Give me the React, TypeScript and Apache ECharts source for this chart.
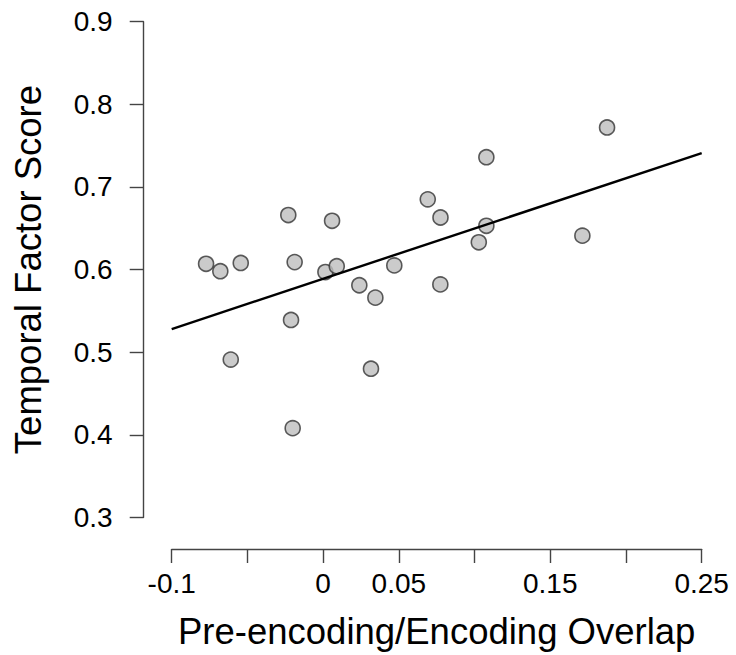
import React, { useEffect, useRef } from "react";
import * as echarts from "echarts";

// Observed points (Pre-encoding/Encoding Overlap vs Temporal Factor Score)
const overlapValues = [
  -0.0773, -0.0679, -0.0544, -0.061, -0.023, -0.0188, -0.0212, -0.0201, 0.0059, 0.0015, 0.009,
  0.0239, 0.0345, 0.0316, 0.047, 0.0691, 0.0775, 0.0774, 0.1028, 0.1078, 0.1078, 0.1712, 0.1875,
];
const scoreValues = [
  0.607, 0.598, 0.608, 0.491, 0.666, 0.609, 0.539, 0.408, 0.659, 0.597, 0.604, 0.581, 0.566,
  0.48, 0.605, 0.685, 0.663, 0.582, 0.633, 0.653, 0.736, 0.641, 0.772,
];

// Regression line end points
const fitX = [-0.1, 0.25];
const fitY = [0.528, 0.741];

// Tick labels that are drawn (others are suppressed, as in the original)
const xShownLabels = ["-0.1", "0", "0.05", "0.15", "0.25"];
const yTickLabels = ["0.3", "0.4", "0.5", "0.6", "0.7", "0.8", "0.9"];

const FONT = "'Liberation Sans', Arial, sans-serif";

export default function App() {
  const ref = useRef<HTMLDivElement>(null);

  useEffect(() => {
    if (!ref.current) return;
    const chart = echarts.init(ref.current, null, { renderer: "svg" });
    const axisColor = "#444";
    chart.setOption({
      animation: false,
      backgroundColor: "#ffffff",
      textStyle: { fontFamily: FONT },
      grid: { left: 171.7, right: 34.3, top: 21.7, bottom: 137.3, containLabel: false },
      xAxis: {
        type: "value",
        min: -0.1,
        max: 0.25,
        interval: 0.05,
        offset: 31.6,
        name: "Pre-encoding/Encoding Overlap",
        nameLocation: "middle",
        nameGap: 64,
        nameTextStyle: { fontFamily: FONT, fontSize: 36.5, color: "#000" },
        axisLine: { show: true, onZero: false, lineStyle: { color: axisColor, width: 1.4 } },
        axisTick: { show: true, length: 14, lineStyle: { color: axisColor, width: 1.4 } },
        splitLine: { show: false },
        axisLabel: {
          fontFamily: FONT,
          fontSize: 28,
          color: "#000",
          margin: 20,
          showMinLabel: true,
          showMaxLabel: true,
          formatter: (v: number) => {
            const s = String(Math.round(v * 100) / 100);
            return xShownLabels.includes(s) ? s : "";
          },
        },
      },
      yAxis: {
        type: "value",
        min: 0.3,
        max: 0.9,
        interval: 0.1,
        offset: 28,
        name: "Temporal Factor Score",
        nameLocation: "middle",
        nameGap: 97,
        nameRotate: 90,
        nameTextStyle: { fontFamily: FONT, fontSize: 36.5, color: "#000" },
        axisLine: { show: true, onZero: false, lineStyle: { color: axisColor, width: 1.4 } },
        axisTick: { show: true, length: 14, lineStyle: { color: axisColor, width: 1.4 } },
        splitLine: { show: false },
        axisLabel: {
          fontFamily: FONT,
          fontSize: 28,
          color: "#000",
          margin: 31,
          showMinLabel: true,
          showMaxLabel: true,
          formatter: (v: number) => {
            const s = (Math.round(v * 10) / 10).toFixed(1);
            return yTickLabels.includes(s) ? s : "";
          },
        },
      },
      series: [
        {
          type: "line",
          data: fitX.map((x, i) => [x, fitY[i]]),
          symbol: "none",
          lineStyle: { color: "#000", width: 2.4 },
          silent: true,
          z: 3,
        },
        {
          type: "scatter",
          data: overlapValues.map((x, i) => [x, scoreValues[i]]),
          symbol: "circle",
          symbolSize: 15,
          itemStyle: { color: "#bebebe", borderColor: "#333", borderWidth: 1.6 },
          z: 2,
        },
      ],
    });
    return () => chart.dispose();
  }, []);

  return (
    <div
      ref={ref}
      style={{ position: "fixed", left: 0, top: 0, width: 736, height: 655, background: "#fff" }}
    />
  );
}
